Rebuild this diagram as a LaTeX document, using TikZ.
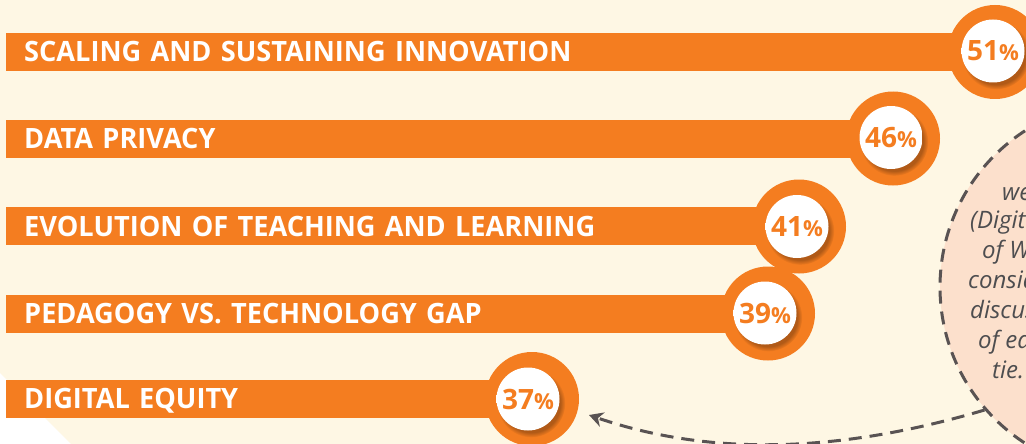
\documentclass[tikz,border=0pt]{standalone}
\usepackage{fontspec}
\setmainfont{Open Sans}
\newfontfamily\barfont[FakeStretch=0.97]{Open Sans}
\usetikzlibrary{positioning, shadows, arrows.meta}
\usepackage{color}

\definecolor{barorange}{RGB}{244,125,32}
\definecolor{cream}{RGB}{254,247,228}
\definecolor{peach}{RGB}{252,224,204}
\definecolor{dashgray}{RGB}{89,83,83}
\definecolor{notegray}{RGB}{77,77,79}

\pgfdeclareradialshading{pctball}{\pgfpoint{6bp}{-10bp}}{color(0bp)=(white); color(32bp)=(white); color(50bp)=(black!35)}

\newcommand{\pct}[1]{{\fontsize{28}{28}\selectfont #1}{\fontsize{22}{22}\selectfont\%}}

\begin{document}
\begin{tikzpicture}[x=1pt, y=-1pt]

        % Setup the styles for the bars, the rings and the note
        \tikzset{bar style/.style={rectangle,
                                   fill=barorange,
                                   anchor=west,
                                   minimum height=38pt,
                                   inner xsep=18pt,
                                   text height=20pt,
                                   text depth=0pt,
                                   align=left,
                                   text=white,
                                   font=\barfont\fontsize{28}{28}\selectfont\bfseries},
                 ring style/.style={circle,
                                    fill=barorange,
                                    minimum size=94pt,
                                    inner sep=0pt},
                 ball style/.style={circle,
                                    minimum size=63pt,
                                    inner sep=0pt,
                                    shading=pctball,
                                    text=barorange,
                                    font=\bfseries,
                                    circular drop shadow={shadow xshift=3pt,
                                                          shadow yshift=-4pt,
                                                          shadow scale=1.08,
                                                          fill=barorange!50!black,
                                                          opacity=.55}},
                 note line/.style={anchor=base west,
                                   inner sep=0pt,
                                   text=notegray,
                                   font=\fontsize{24}{24}\selectfont\itshape}}

        % Background
        \useasboundingbox (0,0) rectangle (1026,444);
        \clip (0,0) rectangle (1026,444);
        \fill[cream] (0,0) rectangle (1026,444);
        \fill[white] (0,373) -- (71,444) -- (0,444) -- cycle;

        % The note
        \node[circle,
              draw=dashgray,
              fill=peach,
              line width=3pt,
              dash pattern=on 13pt off 8pt,
              minimum size=372pt] at (1126,287) (note) {};
        \node[note line] at (1002,200) (line1) {we};
        \node[note line] at (970,228)  (line2) {(Digit};
        \node[note line] at (982,258)  (line3) {of W};
        \node[note line] at (968,288)  (line4) {consid};
        \node[note line] at (970,318)  (line5) {discus};
        \node[note line] at (978,348)  (line6) {of ea};
        \node[note line] at (992,378)  (line7) {tie.};

        % Draw the bars
        \node[bar style, text width=953pt] at (6,52)    (bar1) {SCALING AND SUSTAINING INNOVATION};
        \node[bar style, text width=851pt] at (6,138.5) (bar2) {DATA PRIVACY};
        \node[bar style, text width=757pt] at (6,226)   (bar3) {EVOLUTION OF TEACHING AND LEARNING};
        \node[bar style, text width=726pt] at (6,313.5) (bar4) {PEDAGOGY VS. TECHNOLOGY GAP};
        \node[bar style, text width=490pt] at (6,398.5) (bar5) {DIGITAL EQUITY};

        % Draw the rings with the shares
        \node[ring style] at (995,52)    (ring1) {};
        \node[ball style] at (993,51)    (ball1) {\pct{51}};
        \node[ring style] at (893,138.5) (ring2) {};
        \node[ball style] at (891,137.5) (ball2) {\pct{46}};
        \node[ring style] at (799,226.5) (ring3) {};
        \node[ball style] at (797,226.5) (ball3) {\pct{41}};
        \node[ring style] at (768,313.5) (ring4) {};
        \node[ball style] at (765,313)   (ball4) {\pct{39}};
        \node[ring style] at (532,399)   (ring5) {};
        \node[ball style] at (528,399)   (ball5) {\pct{37}};

        % Connect the note with the last ring
        \coordinate (tip) at (589,415);
        \draw[dashgray,
              line width=3pt,
              dash pattern=on 13pt off 8pt,
              -{Stealth[length=14pt, width=15pt]}]
            (note.221.5) .. controls (853,449) and (720,460) .. (tip);
    \end{tikzpicture}
\end{document}
